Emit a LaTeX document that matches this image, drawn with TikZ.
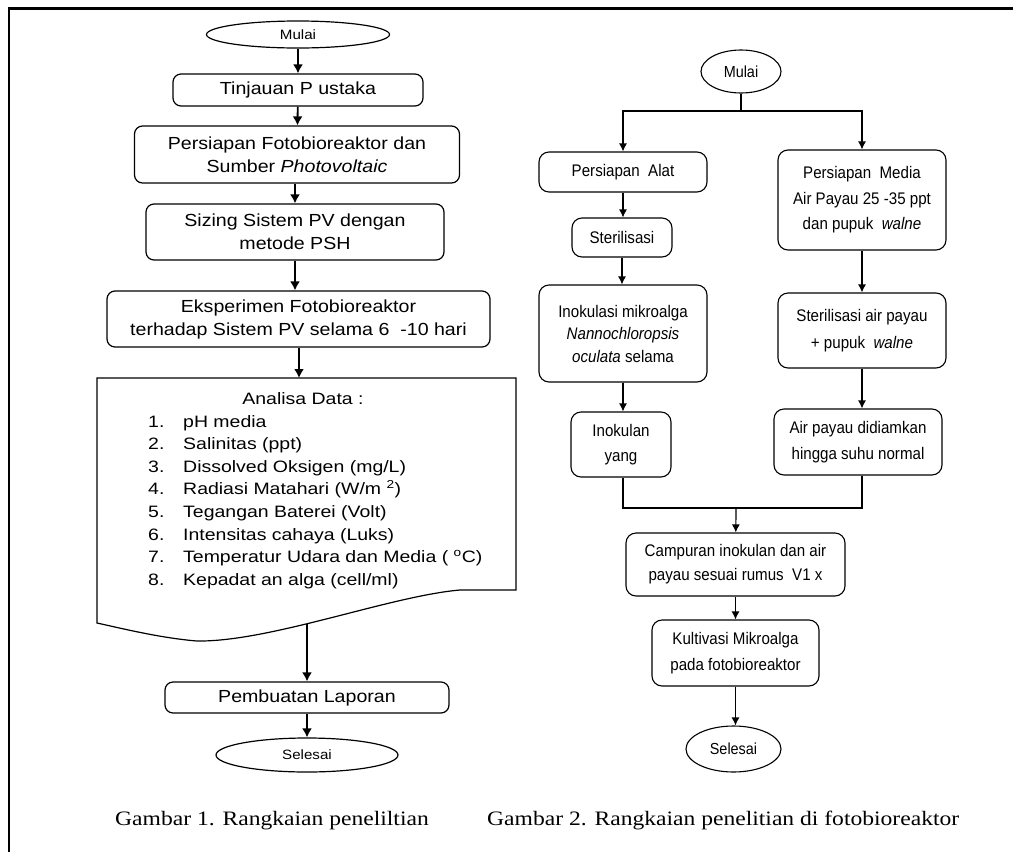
\documentclass[tikz,border=0pt]{standalone}
\usepackage{fontspec}
\setmainfont{Liberation Sans}
\newfontfamily\lsans[FakeStretch=1.12]{Liberation Sans}
\newfontfamily\lsansw[FakeStretch=1.18]{Liberation Sans}
\newfontfamily\nsans[FakeStretch=0.9]{Liberation Sans}
\newfontfamily\capfont[FakeStretch=1.15]{Liberation Serif}
\usetikzlibrary{arrows.meta,shapes.geometric}
\tikzset{
  lbox/.style={draw, line width=1.2pt, rounded corners=8pt, inner sep=0pt, align=center,
    font=\lsans\fontsize{17.5}{23}\selectfont},
  lell/.style={draw, line width=1.2pt, ellipse, inner sep=0pt, font=\lsans\fontsize{13.5}{16}\selectfont},
  rbox/.style={draw, line width=1.1pt, rounded corners=10pt, inner sep=0pt, align=center,
    font=\nsans\fontsize{16.8}{25.5}\selectfont},
  rell/.style={draw, line width=1.1pt, ellipse, inner sep=0pt, font=\nsans\fontsize{16}{18}\selectfont},
  larr/.style={line width=1.8pt, -{Latex[length=9pt,width=10pt]}},
  rarr/.style={line width=1.2pt, -{Latex[length=8pt,width=8pt]}},
  rline/.style={line width=1.2pt},
  frame/.style={line width=2.2pt},
  captxt/.style={anchor=base west, inner sep=0pt, font=\capfont\fontsize{20.5}{23}\selectfont},
  listtxt/.style={anchor=base west, inner sep=0pt, font=\lsansw\fontsize{16.5}{19}\selectfont}
}
\begin{document}
\begin{tikzpicture}[x=1pt, y=-1pt]
\useasboundingbox (0,0) rectangle (1013,852);
% frame
\coordinate (fa) at (9,852);
\coordinate (fb) at (9,8.5);
\coordinate (fc) at (1013,8.5);
\draw[frame] (fa) -- (fb) -- (fc);

% ---------------- left flowchart ----------------
\node[lell, minimum width=183pt, minimum height=27pt] (m1) at (298,34.5) {Mulai};
\node[lbox, minimum width=250pt, minimum height=32pt] (tp) at (298,90) {Tinjauan P ustaka};
\node[lbox, minimum width=325pt, minimum height=57pt] (pf) at (297,154.5) {Persiapan Fotobioreaktor dan\\Sumber \textit{Photovoltaic}};
\node[lbox, minimum width=298pt, minimum height=56pt] (sz) at (295,232) {Sizing Sistem PV dengan\\metode PSH};
\node[lbox, minimum width=383pt, minimum height=56pt] (ek) at (298.5,319) {Eksperimen Fotobioreaktor\\terhadap Sistem PV selama 6\ \ -10 hari};

% document shape
\coordinate (dtl) at (97,378);
\coordinate (dtr) at (516,378);
\coordinate (dbr) at (516,590);
\coordinate (dw1) at (460,590);
\coordinate (dw0) at (197,641);
\coordinate (dbl) at (97,623);
\draw[line width=1.2pt] (dtl) -- (dtr) -- (dbr) -- (dw1)
   .. controls (390,596) and (270,642) .. (dw0)
   .. controls (160,638) and (120,628) .. (dbl) -- cycle;
\coordinate (din) at (299,378);
\coordinate (dout) at (307,624);

\node[anchor=base, inner sep=0pt, font=\lsansw\fontsize{16.5}{19}\selectfont] (ad) at (303,404) {Analisa Data :};
\foreach \n/\t [count=\i from 0] in {1/{pH media}, 2/{Salinitas (ppt)}, 3/{Dissolved Oksigen (mg/L)},
   4/{Radiasi Matahari (W/m \textsuperscript{2})}, 5/{Tegangan Baterei (Volt)}, 6/{Intensitas cahaya (Luks)},
   7/{Temperatur Udara dan Media (\ \textsuperscript{o}C)}, 8/{Kepadat an alga (cell/ml)}} {
  \node[listtxt] (ln\n) at (148,427+\i*22.6) {\n.};
  \node[listtxt] (lt\n) at (183,427+\i*22.6) {\t};
}

\node[lbox, minimum width=284pt, minimum height=31pt] (pl) at (307,697.5) {Pembuatan Laporan};
\node[lell, minimum width=182pt, minimum height=34pt] (s1) at (307,755) {Selesai};

\draw[larr] (m1) -- (tp);
\draw[larr] (tp) -- (pf);
\draw[larr] (pf.south -| sz.north) -- (sz);
\draw[larr] (sz) -- (sz.south |- ek.north);
\draw[larr] (ek.south -| din) -- (din);
\draw[larr] (dout) -- (pl);
\draw[larr] (pl) -- (s1);

% ---------------- right flowchart ----------------
\node[rell, minimum width=80pt, minimum height=43pt] (m2) at (741,71.5) {Mulai};
\node[rbox, minimum width=168pt, minimum height=40pt] (pa) at (623,172) {Persiapan\ \ Alat};
\node[rbox, minimum width=168pt, minimum height=100pt] (pm) at (862,200) {Persiapan\ \ Media\\Air Payau 25 -35 ppt\\dan pupuk\ \ \textit{walne}};
\node[rbox, minimum width=100pt, minimum height=39pt] (st) at (622,237.5) {Sterilisasi};
\node[rbox, minimum width=168pt, minimum height=97pt, font=\nsans\fontsize{16.8}{22.5}\selectfont] (ik) at (623,333.5) {Inokulasi mikroalga\\\textit{Nannochloropsis}\\\textit{oculata} selama};
\node[rbox, minimum width=168pt, minimum height=75pt, font=\nsans\fontsize{16.8}{27}\selectfont] (sa) at (862,330.5) {Sterilisasi air payau\\+ pupuk\ \ \textit{walne}};
\node[rbox, minimum width=100pt, minimum height=65pt] (in) at (621,444.5) {Inokulan\\yang};
\node[rbox, minimum width=168pt, minimum height=66pt] (ap) at (858,442) {Air payau didiamkan\\hingga suhu normal};
\node[rbox, minimum width=219pt, minimum height=63pt, font=\nsans\fontsize{16.8}{24}\selectfont] (cp) at (735.5,564.5) {Campuran inokulan dan air\\payau sesuai rumus\ \ V1 x};
\node[rbox, minimum width=167pt, minimum height=66pt] (kv) at (735.5,653) {Kultivasi Mikroalga\\pada fotobioreaktor};
\node[rell, minimum width=95pt, minimum height=46pt] (s2) at (733.5,749) {Selesai};

\coordinate (sp) at (741,111);
\coordinate (jn) at (736,508);
\draw[rline] (m2) -- (sp);
\draw[rarr] (sp) -| (pa.north);
\draw[rarr] (sp) -| (pm.north);
\draw[rarr] (pa) -- (pa.south |- st.north);
\draw[rarr] (st) -- (st.south |- ik.north);
\draw[rarr] (pm) -- (pm.south |- sa.north);
\draw[rarr] (ik) -- (ik.south |- in.north);
\draw[rarr] (sa) -- (sa.south |- ap.north);
\draw[rline] (in.south -| 623,0) |- (jn);
\draw[rline] (ap.south -| 862,0) |- (jn);
\draw[rarr] (jn) -- (cp);
\draw[rarr] (cp) -- (kv);
\draw[rarr] (kv) -- (kv.south |- s2.north);

% captions
\node[captxt] (c1) at (115,825) {Gambar 1. Rangkaian peneliltian};
\node[captxt] (c2) at (487,825) {Gambar 2. Rangkaian penelitian di\ fotobioreaktor};
\end{tikzpicture}
\end{document}
